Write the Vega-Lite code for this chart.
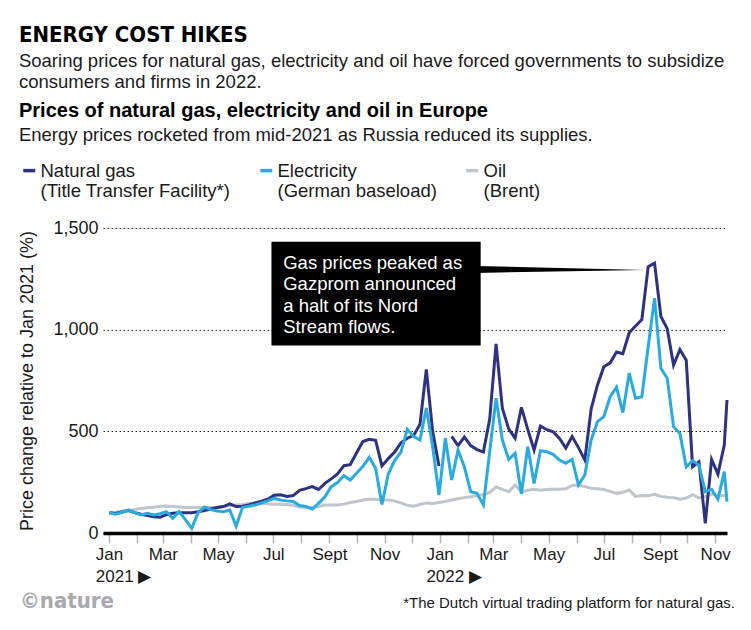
{
  "$schema": "https://vega.github.io/schema/vega-lite/v6.json",
  "background": "white",
  "padding": {"left": 18, "right": 6, "top": 24, "bottom": 4},
  "config": {
    "view": {"stroke": null},
    "font": "Liberation Sans",
    "axis": {"labelFont": "Liberation Sans", "titleFont": "Liberation Sans"},
    "legend": {"labelFont": "Liberation Sans"}
  },
  "title": {
    "text": "ENERGY COST HIKES",
    "subtitle": ["Soaring prices for natural gas, electricity and oil have forced governments to subsidize", "consumers and firms in 2022."],
    "anchor": "start",
    "frame": "bounds",
    "font": "DejaVu Sans Condensed",
    "fontSize": 22,
    "fontWeight": "bold",
    "color": "#000000",
    "subtitleFont": "Liberation Sans",
    "subtitleFontSize": 18.5,
    "subtitleColor": "#1a1a1a",
    "subtitleLineHeight": 21,
    "subtitlePadding": 5,
    "offset": 8
  },
  "datasets": {
    "prices": [
      {"date": "2021-01-01", "gas": 100, "elec": 100, "oil": 100},
      {"date": "2021-01-08", "gas": 96, "elec": 93, "oil": 102},
      {"date": "2021-01-15", "gas": 103, "elec": 102, "oil": 108},
      {"date": "2021-01-22", "gas": 110, "elec": 113, "oil": 112},
      {"date": "2021-01-29", "gas": 100, "elec": 100, "oil": 116},
      {"date": "2021-02-05", "gas": 92, "elec": 89, "oil": 121},
      {"date": "2021-02-12", "gas": 86, "elec": 97, "oil": 124},
      {"date": "2021-02-19", "gas": 80, "elec": 89, "oil": 127},
      {"date": "2021-02-26", "gas": 77, "elec": 95, "oil": 132},
      {"date": "2021-03-05", "gas": 90, "elec": 105, "oil": 133},
      {"date": "2021-03-12", "gas": 97, "elec": 72, "oil": 130},
      {"date": "2021-03-19", "gas": 100, "elec": 105, "oil": 128},
      {"date": "2021-03-26", "gas": 100, "elec": 66, "oil": 126},
      {"date": "2021-04-02", "gas": 100, "elec": 23, "oil": 125},
      {"date": "2021-04-09", "gas": 105, "elec": 100, "oil": 125},
      {"date": "2021-04-16", "gas": 110, "elec": 128, "oil": 125},
      {"date": "2021-04-23", "gas": 118, "elec": 115, "oil": 125},
      {"date": "2021-04-30", "gas": 125, "elec": 108, "oil": 126},
      {"date": "2021-05-07", "gas": 130, "elec": 105, "oil": 130},
      {"date": "2021-05-14", "gas": 143, "elec": 113, "oil": 135},
      {"date": "2021-05-21", "gas": 130, "elec": 34, "oil": 138},
      {"date": "2021-05-28", "gas": 132, "elec": 125, "oil": 140},
      {"date": "2021-06-04", "gas": 138, "elec": 132, "oil": 145},
      {"date": "2021-06-11", "gas": 148, "elec": 138, "oil": 148},
      {"date": "2021-06-18", "gas": 156, "elec": 148, "oil": 146},
      {"date": "2021-06-25", "gas": 166, "elec": 158, "oil": 143},
      {"date": "2021-07-02", "gas": 186, "elec": 170, "oil": 142},
      {"date": "2021-07-09", "gas": 188, "elec": 162, "oil": 141},
      {"date": "2021-07-16", "gas": 180, "elec": 158, "oil": 140},
      {"date": "2021-07-23", "gas": 184, "elec": 155, "oil": 136},
      {"date": "2021-07-30", "gas": 210, "elec": 135, "oil": 128},
      {"date": "2021-08-06", "gas": 218, "elec": 130, "oil": 126},
      {"date": "2021-08-13", "gas": 228, "elec": 118, "oil": 125},
      {"date": "2021-08-20", "gas": 214, "elec": 146, "oil": 130},
      {"date": "2021-08-27", "gas": 244, "elec": 178, "oil": 138},
      {"date": "2021-09-03", "gas": 266, "elec": 228, "oil": 138},
      {"date": "2021-09-10", "gas": 290, "elec": 248, "oil": 138},
      {"date": "2021-09-17", "gas": 331, "elec": 282, "oil": 142},
      {"date": "2021-09-24", "gas": 336, "elec": 261, "oil": 150},
      {"date": "2021-10-01", "gas": 395, "elec": 294, "oil": 155},
      {"date": "2021-10-08", "gas": 450, "elec": 328, "oil": 162},
      {"date": "2021-10-15", "gas": 461, "elec": 372, "oil": 166},
      {"date": "2021-10-22", "gas": 456, "elec": 318, "oil": 166},
      {"date": "2021-10-29", "gas": 330, "elec": 140, "oil": 162},
      {"date": "2021-11-05", "gas": 366, "elec": 290, "oil": 162},
      {"date": "2021-11-12", "gas": 398, "elec": 356, "oil": 158},
      {"date": "2021-11-19", "gas": 444, "elec": 398, "oil": 148},
      {"date": "2021-11-26", "gas": 466, "elec": 510, "oil": 136},
      {"date": "2021-12-03", "gas": 480, "elec": 474, "oil": 132},
      {"date": "2021-12-10", "gas": 535, "elec": 457, "oil": 140},
      {"date": "2021-12-17", "gas": 805, "elec": 615, "oil": 148},
      {"date": "2021-12-24", "gas": 500, "elec": 425, "oil": 145},
      {"date": "2021-12-31", "gas": 330, "elec": 187, "oil": 150},
      {"date": "2022-01-07", "gas": null, "elec": 466, "oil": 155},
      {"date": "2022-01-14", "gas": 475, "elec": 261, "oil": 162},
      {"date": "2022-01-21", "gas": 430, "elec": 408, "oil": 168},
      {"date": "2022-01-28", "gas": 472, "elec": 326, "oil": 174},
      {"date": "2022-02-04", "gas": 430, "elec": 203, "oil": 178},
      {"date": "2022-02-11", "gas": 410, "elec": 195, "oil": 184},
      {"date": "2022-02-18", "gas": 398, "elec": 138, "oil": 188},
      {"date": "2022-02-25", "gas": 560, "elec": 400, "oil": 200},
      {"date": "2022-03-04", "gas": 930, "elec": 663, "oil": 226},
      {"date": "2022-03-11", "gas": 612, "elec": 457, "oil": 215},
      {"date": "2022-03-18", "gas": 512, "elec": 362, "oil": 203},
      {"date": "2022-03-25", "gas": 466, "elec": 392, "oil": 236},
      {"date": "2022-04-01", "gas": 618, "elec": 192, "oil": 202},
      {"date": "2022-04-08", "gas": 510, "elec": 425, "oil": 210},
      {"date": "2022-04-15", "gas": 408, "elec": 244, "oil": 215},
      {"date": "2022-04-22", "gas": 526, "elec": 405, "oil": 210},
      {"date": "2022-04-29", "gas": 508, "elec": 400, "oil": 214},
      {"date": "2022-05-06", "gas": 498, "elec": 387, "oil": 215},
      {"date": "2022-05-13", "gas": 465, "elec": 359, "oil": 215},
      {"date": "2022-05-20", "gas": 418, "elec": 343, "oil": 218},
      {"date": "2022-05-27", "gas": 474, "elec": 362, "oil": 234},
      {"date": "2022-06-03", "gas": 420, "elec": 236, "oil": 236},
      {"date": "2022-06-10", "gas": 359, "elec": 285, "oil": 228},
      {"date": "2022-06-17", "gas": 610, "elec": 457, "oil": 220},
      {"date": "2022-06-24", "gas": 728, "elec": 548, "oil": 218},
      {"date": "2022-07-01", "gas": 818, "elec": 572, "oil": 214},
      {"date": "2022-07-08", "gas": 837, "elec": 670, "oil": 205},
      {"date": "2022-07-15", "gas": 890, "elec": 717, "oil": 195},
      {"date": "2022-07-22", "gas": 882, "elec": 592, "oil": 200},
      {"date": "2022-07-29", "gas": 985, "elec": 786, "oil": 211},
      {"date": "2022-08-05", "gas": 1018, "elec": 663, "oil": 180},
      {"date": "2022-08-12", "gas": 1050, "elec": 670, "oil": 184},
      {"date": "2022-08-19", "gas": 1310, "elec": 917, "oil": 183},
      {"date": "2022-08-26", "gas": 1327, "elec": 1155, "oil": 190},
      {"date": "2022-09-02", "gas": 1065, "elec": 810, "oil": 180},
      {"date": "2022-09-09", "gas": 1005, "elec": 761, "oil": 176},
      {"date": "2022-09-16", "gas": 826, "elec": 523, "oil": 174},
      {"date": "2022-09-23", "gas": 902, "elec": 490, "oil": 166},
      {"date": "2022-09-30", "gas": 850, "elec": 326, "oil": 172},
      {"date": "2022-10-07", "gas": 326, "elec": 356, "oil": 188},
      {"date": "2022-10-14", "gas": 350, "elec": 334, "oil": 172},
      {"date": "2022-10-21", "gas": 48, "elec": 203, "oil": 180},
      {"date": "2022-10-28", "gas": 362, "elec": 215, "oil": 192},
      {"date": "2022-11-04", "gas": 290, "elec": 166, "oil": 182},
      {"date": "2022-11-11", "gas": 432, "elec": 302, "oil": 185},
      {"date": "2022-11-14", "gas": 654, "elec": 154, "oil": 185}
    ],
    "pointer": [
      {"date": "2022-02-10", "top": 1313, "bottom": 1279},
      {"date": "2022-08-15", "top": 1294, "bottom": 1294}
    ],
    "footer": [
      {"logo": "©nature", "note": "*The Dutch virtual trading platform for natural gas."}
    ]
  },
  "vconcat": [
    {
      "title": {
        "text": "Prices of natural gas, electricity and oil in Europe",
        "subtitle": "Energy prices rocketed from mid-2021 as Russia reduced its supplies.",
        "anchor": "start",
        "frame": "bounds",
        "font": "Liberation Sans",
        "fontSize": 20,
        "fontWeight": "bold",
        "color": "#000000",
        "subtitleFont": "Liberation Sans",
        "subtitleFontSize": 18.5,
        "subtitleColor": "#1a1a1a",
        "subtitlePadding": 5,
        "offset": 75
      },
      "width": 624,
      "height": 305,
      "layer": [
        {
          "data": {"name": "prices"},
          "transform": [{"fold": ["gas", "elec", "oil"], "as": ["series", "value"]}],
          "encoding": {
            "x": {
              "field": "date",
              "type": "temporal",
              "scale": {"type": "utc", "domain": [{"year": 2020, "month": 12, "date": 25, "utc": true}, {"year": 2022, "month": 11, "date": 14, "utc": true}]},
              "axis": {
                "title": null,
                "grid": false,
                "tickCount": {"interval": "month", "step": 1},
                "labelExpr": "utcmonth(datum.value) % 2 != 0 ? '' : (utcmonth(datum.value) == 0 ? ['Jan', utcFormat(datum.value, '%Y') + ' ▶'] : (utcmonth(datum.value) == 8 ? 'Sept' : utcFormat(datum.value, '%b')))",
                "labelOverlap": false,
                "labelFlush": false,
                "labelFontSize": 17,
                "labelColor": "#1a1a1a",
                "labelPadding": 3,
                "labelBaseline": "top",
                "labelLineHeight": 22,
                "labelAlign": {"condition": {"test": "utcmonth(datum.value) == 0", "value": "left"}, "value": "center"},
                "labelOffset": {"condition": {"test": "utcmonth(datum.value) == 0", "value": -14}, "value": 0},
                "domainColor": "#000000",
                "domainWidth": 3.5,
                "tickColor": "#b5b5b5",
                "tickWidth": 1.5,
                "tickSize": 10
              }
            },
            "y": {
              "field": "value",
              "type": "quantitative",
              "scale": {"domain": [0, 1500], "nice": false},
              "axis": {
                "title": "Price change relative to Jan 2021 (%)",
                "values": [0, 500, 1000, 1500],
                "format": ",.0f",
                "domain": false,
                "ticks": false,
                "grid": true,
                "gridDash": [1.5, 2.5],
                "gridColor": "#222222",
                "gridWidth": 1.2,
                "labelFontSize": 18,
                "labelColor": "#1a1a1a",
                "labelPadding": 5,
                "titleFontSize": 18,
                "titleFontWeight": "normal",
                "titleColor": "#1a1a1a",
                "titlePadding": 16
              }
            },
            "color": {
              "field": "series",
              "type": "nominal",
              "scale": {"domain": ["gas", "elec", "oil"], "range": ["#2e3282", "#29abe2", "#c0c4cb"]},
              "legend": {
                "orient": "none",
                "legendX": -83,
                "legendY": -67,
                "direction": "horizontal",
                "title": null,
                "padding": 0,
                "labelExpr": "datum.label == 'gas' ? ['Natural gas', '(Title Transfer Facility*)'] : (datum.label == 'elec' ? ['Electricity', '(German baseload)'] : ['Oil', '(Brent)'])",
                "labelLimit": 400,
                "symbolType": "stroke",
                "symbolSize": 144,
                "symbolStrokeWidth": 3.5,
                "labelFontSize": 18.5,
                "labelColor": "#1a1a1a",
                "labelLineHeight": 21,
                "labelBaseline": "middle",
                "labelOffset": 2,
                "columnPadding": 22
              }
            }
          },
          "layer": [
            {"transform": [{"filter": "datum.series == 'oil'"}], "mark": {"type": "line", "strokeWidth": 3}},
            {"transform": [{"filter": "datum.series == 'gas'"}], "mark": {"type": "line", "strokeWidth": 3}},
            {"transform": [{"filter": "datum.series == 'elec'"}], "mark": {"type": "line", "strokeWidth": 3}}
          ]
        },
        {
          "data": {"name": "pointer"},
          "mark": {"type": "area", "color": "#000000"},
          "encoding": {
            "x": {"field": "date", "type": "temporal"},
            "y": {"field": "top", "type": "quantitative"},
            "y2": {"field": "bottom"}
          }
        },
        {
          "data": {"values": [{}]},
          "mark": {"type": "rect", "color": "#000000"},
          "encoding": {
            "x": {"datum": {"year": 2021, "month": 6, "date": 29, "utc": true}, "type": "temporal"},
            "x2": {"datum": {"year": 2022, "month": 2, "date": 15, "utc": true}},
            "y": {"datum": 1432, "type": "quantitative"},
            "y2": {"datum": 922}
          }
        },
        {
          "data": {"values": [{}]},
          "mark": {"type": "text", "color": "#ffffff", "align": "left", "baseline": "alphabetic", "fontSize": 18.5, "lineHeight": 21.5, "font": "Liberation Sans"},
          "encoding": {
            "x": {"datum": {"year": 2021, "month": 7, "date": 12, "utc": true}, "type": "temporal"},
            "y": {"datum": 1300, "type": "quantitative"},
            "text": {"value": ["Gas prices peaked as", "Gazprom announced", "a halt of its Nord", "Stream flows."]}
          }
        }
      ]
    },
    {
      "width": 624,
      "height": 20,
      "data": {"name": "footer"},
      "layer": [
        {
          "mark": {"type": "text", "align": "left", "baseline": "middle", "dx": -83, "font": "DejaVu Sans Condensed", "fontWeight": "bold", "fontSize": 22, "color": "#a7a9ac"},
          "encoding": {"x": {"value": 0}, "text": {"field": "logo"}}
        },
        {
          "mark": {"type": "text", "align": "right", "baseline": "middle", "dx": 8, "dy": 2, "font": "Liberation Sans", "fontSize": 15, "color": "#1a1a1a"},
          "encoding": {"x": {"value": "width"}, "text": {"field": "note"}}
        }
      ]
    }
  ],
  "spacing": 6
}
